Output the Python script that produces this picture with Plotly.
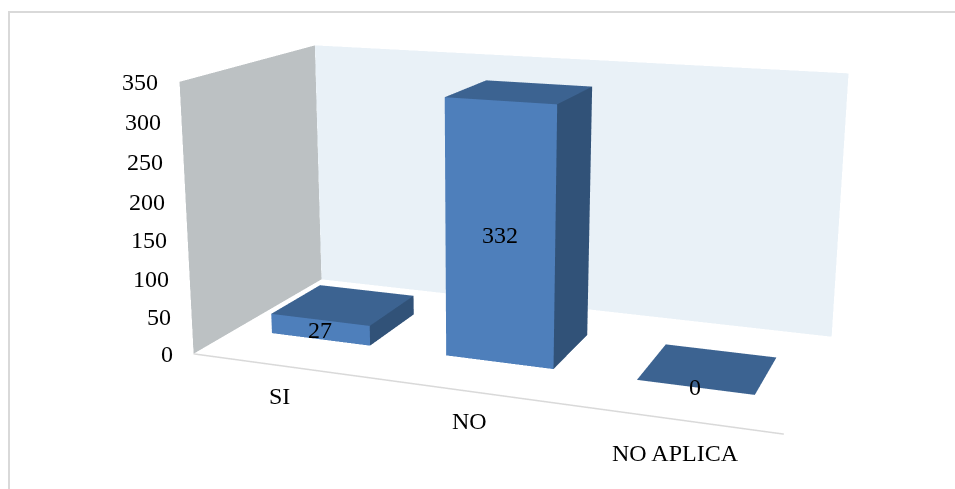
import plotly.graph_objects as go

# Chart data
categories = ["SI", "NO", "NO APLICA"]
values = [27, 332, 0]
ticks = [0, 50, 100, 150, 200, 250, 300, 350]

# Bar footprint in axis units
BAR_WIDTH = 0.574
BAR_FRONT = 0.304
BAR_BACK = 0.699

FRONT, TOP, SIDE = "#4e7fbb", "#3c6391", "#315278"
BACK_WALL, LEFT_WALL = "#e9f1f7", "#bcc1c3"

# Plotly's 3D view has a fixed field of view, so a tall scene gives the flatter
# perspective of this chart; the page offset below centres the view in the window.
FIG_W, FIG_H = 955, 1246
PAGE_OFFSET = 378

FLAT = dict(ambient=1, diffuse=0, specular=0, fresnel=0, roughness=1)


def bar(i, v):
    xa, xb = i + 0.5 - BAR_WIDTH / 2, i + 0.5 + BAR_WIDTH / 2
    xs = [xa, xb, xb, xa, xa, xb, xb, xa]
    ys = [BAR_FRONT, BAR_FRONT, BAR_BACK, BAR_BACK] * 2
    zs = [0, 0, 0, 0, v, v, v, v]
    if v > 0:
        ii, jj, kk = [0, 0, 4, 4, 1, 1], [1, 5, 5, 6, 2, 6], [5, 4, 6, 7, 6, 5]
        colors = [FRONT, FRONT, TOP, TOP, SIDE, SIDE]
    else:
        ii, jj, kk = [4, 4], [5, 6], [6, 7]
        colors = [TOP, TOP]
    return go.Mesh3d(x=xs, y=ys, z=zs, i=ii, j=jj, k=kk, facecolor=colors,
                     flatshading=True, hoverinfo="skip", lighting=FLAT)


def wall(xs, ys, zs, color):
    return go.Mesh3d(x=xs, y=ys, z=zs, i=[0, 0], j=[1, 2], k=[2, 3],
                     facecolor=[color, color], flatshading=True,
                     hoverinfo="skip", lighting=FLAT)


fig = go.Figure()
x_max, z_max = len(categories), ticks[-1]
fig.add_trace(wall([0, x_max, x_max, 0], [1, 1, 1, 1], [0, 0, z_max, z_max], BACK_WALL))
fig.add_trace(wall([0, 0, 0, 0], [0, 1, 1, 0], [0, 0, z_max, z_max], LEFT_WALL))
for i, v in enumerate(values):
    fig.add_trace(bar(i, v))
fig.add_trace(go.Scatter3d(x=[0, x_max], y=[0, 0], z=[0, 0], mode="lines",
                           line=dict(color="#d9d9d9", width=3), hoverinfo="skip"))

font = dict(family="Liberation Serif", size=24, color="#000000")
cat_shift = [(-1, -30), (2, -30), (3, -34)]

labels = []
for t in ticks:
    labels.append(dict(x=0, y=0, z=t, text=str(t), showarrow=False, xanchor="right",
                       xshift=-19, yshift=0, font=font))
for i, c in enumerate(categories):
    labels.append(dict(x=i + 0.5, y=0, z=0, text=c, showarrow=False,
                       xshift=cat_shift[i][0], yshift=cat_shift[i][1], font=font))
for i, v in enumerate(values):
    labels.append(dict(x=i + 0.5, y=BAR_FRONT, z=v / 2, text=str(v), showarrow=False,
                       yshift=0, font=font))

hidden = dict(visible=False, showgrid=False, zeroline=False, showspikes=False)
fig.update_layout(
    width=FIG_W, height=FIG_H, margin=dict(l=0, r=0, t=0, b=0),
    paper_bgcolor="white", showlegend=False,
    scene=dict(
        domain=dict(x=[0, 1], y=[0, 1]), bgcolor="rgba(0,0,0,0)", aspectmode="manual",
        aspectratio=dict(x=1, y=0.4816, z=0.4657),
        xaxis=dict(range=[0, x_max], **hidden),
        yaxis=dict(range=[0, 1], **hidden),
        zaxis=dict(range=[0, z_max], **hidden),
        camera=dict(projection=dict(type="perspective"),
                    eye=dict(x=0.8192, y=-2.3294, z=0.61),
                    center=dict(x=-0.0473, y=-0.0723, z=-0.0398),
                    up=dict(x=0.0051, y=0, z=1)),
        annotations=labels),
    shapes=[dict(type="rect", xref="paper", yref="paper",
                 x0=9 / FIG_W, x1=1.05, y0=0, y1=1 - (12 + PAGE_OFFSET) / FIG_H,
                 line=dict(color="#d9d9d9", width=2))],
)

page_js = (
    "document.documentElement.style.overflow='hidden';"
    "document.body.style.overflow='hidden';"
    f"document.querySelector('.plotly-graph-div').style.marginTop='-{PAGE_OFFSET}px';"
)
fig.write_html("out.html", post_script=page_js)
